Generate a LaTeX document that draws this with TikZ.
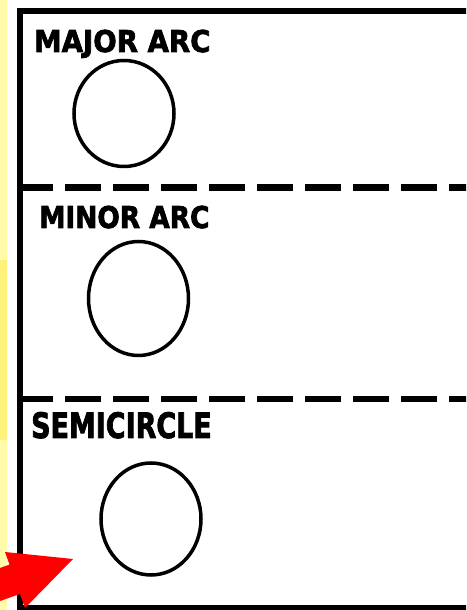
\documentclass[tikz,border=0pt]{standalone}
\usepackage{fontspec}
\setsansfont{DejaVu Sans}
\newfontfamily\heavyfont{DejaVu Sans}[BoldFeatures={FakeBold=2.5}]
\usepackage{tikz}
\usetikzlibrary{positioning}
\definecolor{ink}{HTML}{000000}
\definecolor{paleyel}{HTML}{FFFBA8}
\definecolor{deepyel}{HTML}{FFF27A}
\definecolor{alert}{HTML}{FF0000}

\begin{document}
\begin{tikzpicture}[x=1pt,y=1pt,
  heading/.style={anchor=base west,inner sep=0pt,text=ink,font=\fontsize{30}{30}\heavyfont\bfseries},
  ringline/.style={draw=ink,line width=3.5pt},
  divider/.style={draw=ink,line width=6.5pt,dash pattern=on 36pt off 12pt}]
\useasboundingbox (0,0) rectangle (466,610);
\clip (0,0) rectangle (466,610);
\fill[white] (0,0) rectangle (466,610);
\fill[paleyel] (0,0) rectangle (7,610);
\fill[deepyel] (0,170) rectangle (7,350);
% card
\draw[ink,line width=6.5pt] (490,2) -- (20,2) -- (20,599) -- (490,599);
\draw[divider] (17,422.5) -- (490,422.5);
\draw[divider] (17,211) -- (490,211);
% headings
\node[heading] (major) at (34,558) {\scalebox{0.92}[1]{MAJOR ARC}};
\node[heading] (minor) at (39,382) {\scalebox{0.88}[1]{MINOR ARC}};
\node[heading,font=\fontsize{35}{35}\heavyfont\bfseries] (semi) at (31,172) {\scalebox{0.77}[1]{SEMICIRCLE}};
% circles
\draw[ringline] (124,496.5) ellipse [x radius=50,y radius=53];
\draw[ringline] (138.5,311.5) ellipse [x radius=50,y radius=57];
\draw[ringline] (151,91) ellipse [x radius=50,y radius=56];
% arrow
\fill[alert] (-28,32) -- (0,42) -- (9.5,45.4) -- (5,58) -- (73,51) -- (25,2) -- (20,16) -- (0,9) -- (-28,-1) -- cycle;
\end{tikzpicture}
\end{document}
